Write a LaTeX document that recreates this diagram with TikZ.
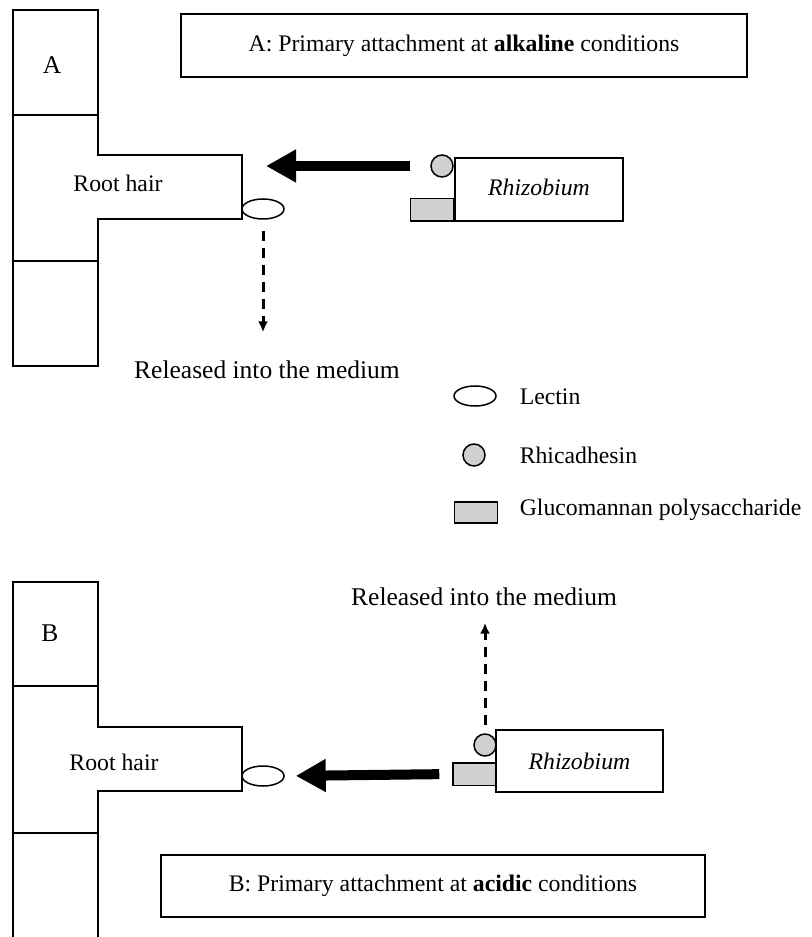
\documentclass[tikz,border=0pt]{standalone}
\usepackage{fontspec}
\setmainfont{Liberation Serif}
\usepackage{tikz}
\usetikzlibrary{arrows.meta,positioning,shapes.geometric}
\definecolor{bindgray}{HTML}{CFD0D2}

\begin{document}
\begin{tikzpicture}[
  x=0.4pt,y=-0.4pt,
  font=\fontsize{9.5}{11.4}\selectfont,
  line width=0.6pt,
  caption/.style={inner sep=0pt},
  bigcaption/.style={inner sep=0pt,font=\fontsize{10.2}{12}\selectfont},
  titlebox/.style={draw,line width=0.7pt,minimum height=25pt,align=center},
  cellbox/.style={draw,line width=0.7pt,minimum width=67pt,minimum height=25pt},
  lectin/.style={draw,ellipse,inner sep=0pt,minimum width=16.8pt,minimum height=8pt},
  rhicad/.style={draw,circle,fill=bindgray,inner sep=0pt,minimum size=8.8pt},
  gluco/.style={draw,fill=bindgray,inner sep=0pt,minimum width=17.2pt,minimum height=9pt},
  push/.style={line width=4pt,-{Triangle[length=12pt,width=12.4pt]}},
  release/.style={line width=1.2pt,dash pattern=on 4pt off 2.8pt,
                  -{Latex[length=4.4pt,width=4pt]}}
]
  \useasboundingbox (0,0) rectangle (811,937);

  % panel A: root with root hair
  \draw (13,10) rectangle (98,115);
  \draw (13,115) -- (98,115) -- (98,155) -- (242,155) -- (242,219) -- (98,219) -- (98,261) -- (13,261) -- cycle;
  \draw (13,261) rectangle (98,366);
  \node[bigcaption] (labA) at (52,65) {A};
  \node[caption] (hairtxtA) at (118,183) {Root hair};
  \coordinate (hairA) at (242,166);

  \node[titlebox,minimum width=226.4pt] (titleA) at (464,45.5)
    {A: Primary attachment at \textbf{alkaline} conditions};
  \node[cellbox] (rhizA) at (539,189.5) {\raisebox{1.5pt}{\itshape Rhizobium}};
  \node[gluco,anchor=south east] (glucA) at (rhizA.south west) {};
  \node[rhicad] (rhicA) at (442,166) {};
  \node[lectin] (lectA) at (263,209) {};
  \node[bigcaption] (relA) at (267,370) {Released into the medium};

  \draw[push,shorten <=8pt,shorten >=9.6pt] (rhicA.west) -- (hairA);
  \draw[release,shorten <=4.4pt,shorten >=11.2pt] (lectA.south) -- (lectA.south |- relA.north);

  % legend
  \node[lectin] (legLect) at (475,396) {};
  \node[rhicad] (legRhic) at (474,455) {};
  \node[gluco,minimum height=8.4pt] (legGluc) at (476,512.5) {};
  \node[caption,anchor=west] (legLectTxt) at (519,397) {Lectin};
  \node[caption,anchor=west] (legRhicTxt) at (519,455) {Rhicadhesin};
  \node[caption,anchor=west] (legGlucTxt) at (519,510) {Glucomannan polysaccharide};

  % panel B: root with root hair
  \draw (13,582) rectangle (98,686);
  \draw (13,686) -- (98,686) -- (98,727) -- (242,727) -- (242,791) -- (98,791) -- (98,833) -- (13,833) -- cycle;
  \draw (13,937) -- (13,833) -- (98,833) -- (98,937);
  \node[bigcaption] (labB) at (50,633) {B};
  \node[caption] (hairtxtB) at (114,762) {Root hair};

  \node[titlebox,minimum width=217.6pt] (titleB) at (433,886)
    {B: Primary attachment at \textbf{acidic} conditions};
  \node[cellbox] (rhizB) at (579.5,761) {\itshape Rhizobium};
  \node[gluco] (glucB) at (474.5,774) {};
  \node[rhicad] (rhicB) at (485,745) {};
  \node[lectin] (lectB) at (263,776) {};
  \node[bigcaption] (relB) at (484,597) {Released into the medium};

  \draw[push,shorten <=5.2pt,shorten >=4.4pt] (glucB.west) -- (lectB.east);
  \draw[release,shorten <=3.2pt,shorten >=6.4pt] (rhicB.north) -- (rhicB.north |- relB.south);
\end{tikzpicture}
\end{document}
